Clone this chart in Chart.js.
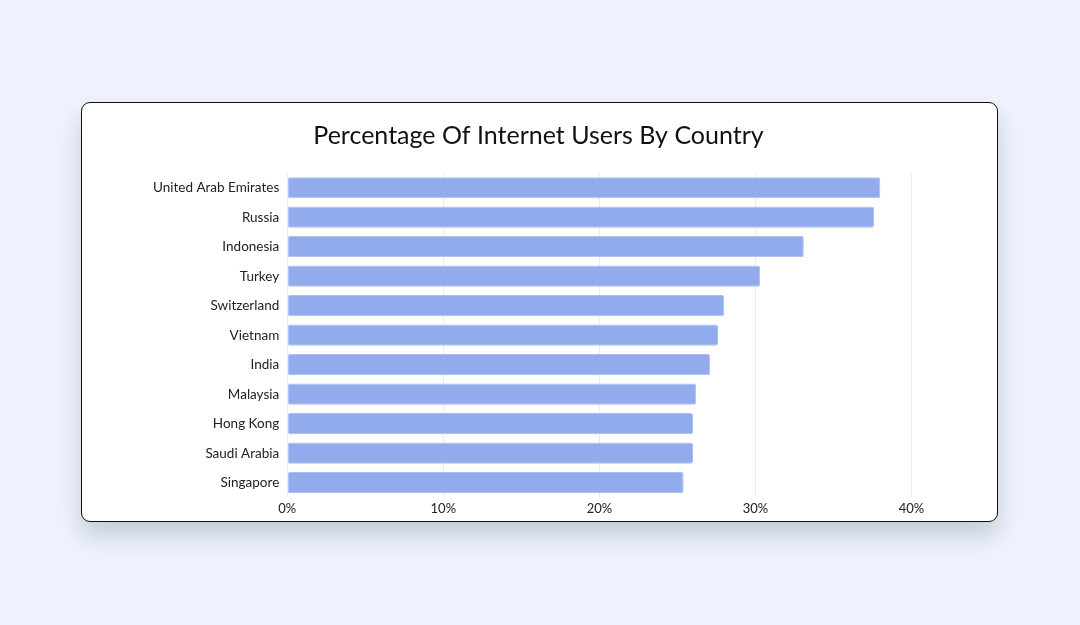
<!DOCTYPE html>
<html>
<head>
<meta charset="utf-8">
<script src="https://cdn.jsdelivr.net/npm/chart.js@4.4.1/dist/chart.umd.min.js"></script>
<style>
  html, body { margin: 0; padding: 0; width: 1080px; height: 625px; background: #eef3fe; overflow: hidden; }
  #card {
    position: absolute; left: 81px; top: 102px; width: 915px; height: 418px;
    background: #fff; border: 1.5px solid #111; border-radius: 9px;
    box-shadow: 0 14px 24px rgba(120, 128, 150, 0.35);
  }
  #wrap { position: absolute; left: 0; top: 0; width: 915px; height: 418px; }
</style>
</head>
<body>
<div id="card"><div id="wrap"><canvas id="c"></canvas></div></div>
<script>
const categories = ["United Arab Emirates", "Russia", "Indonesia", "Turkey", "Switzerland", "Vietnam", "India", "Malaysia", "Hong Kong", "Saudi Arabia", "Singapore"];
const values = [38.0, 37.6, 33.1, 30.3, 28.0, 27.6, 27.1, 26.2, 26.0, 26.0, 25.4];
const xTicks = [0, 10, 20, 30, 40];
const titleText = "Percentage Of Internet Users By Country";

const FONT = "Lato, 'Open Sans', sans-serif";
new Chart(document.getElementById('c'), {
  type: 'bar',
  data: {
    labels: categories,
    datasets: [{
      data: values,
      backgroundColor: '#91abec',
      borderColor: '#a9bff2',
      borderWidth: 1,
      borderRadius: 2,
      borderSkipped: false,
      barPercentage: 0.9,
      categoryPercentage: 0.8
    }]
  },
  options: {
    indexAxis: 'y',
    responsive: true,
    maintainAspectRatio: false,
    animation: false,
    layout: { padding: { left: 71, right: 73, top: 18, bottom: 0 } },
    plugins: {
      legend: { display: false },
      tooltip: { enabled: false },
      title: {
        display: true, text: titleText, color: '#111',
        font: { family: FONT, size: 25, weight: '400' },
        padding: { top: 0, bottom: 22 }
      }
    },
    scales: {
      x: {
        min: 0, max: 40.8,
        afterBuildTicks: (axis) => { axis.ticks = xTicks.map(v => ({ value: v })); },
        ticks: { callback: v => v + '%', color: '#222', font: { family: FONT, size: 13 }, padding: 4 },
        grid: { color: '#ececef', drawTicks: false },
        border: { display: false }
      },
      y: {
        ticks: { color: '#222', font: { family: FONT, size: 13.5 }, padding: 0 },
        grid: { display: false },
        border: { display: false }
      }
    }
  }
});
</script>
</body>
</html>
